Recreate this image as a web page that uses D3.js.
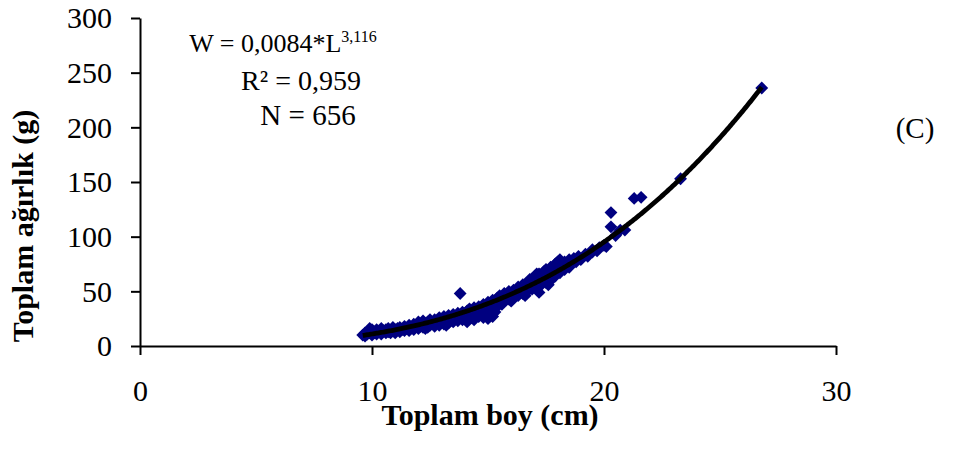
<!DOCTYPE html>
<html>
<head>
<meta charset="utf-8">
<script src="https://cdn.jsdelivr.net/npm/d3@7"></script>
<style>
  html, body { margin: 0; padding: 0; background: #fff; }
  svg { display: block; }
  text { font-family: "Times New Roman", "Liberation Serif", serif; fill: #000; }
</style>
</head>
<body>
<svg id="chart" width="974" height="461"></svg>
<script>
// Total length (cm) and total weight (g) of the sampled fish
const lengthCm = [
  9.6, 9.7, 9.7, 9.8, 9.9, 9.9, 10.0, 10.0, 10.0, 10.1,
  10.2, 10.2, 10.3, 10.4, 10.4, 10.5, 10.6, 10.6, 10.7, 10.7,
  10.8, 10.9, 10.9, 11.0, 11.0, 11.1, 11.2, 11.2, 11.3, 11.4,
  11.4, 11.5, 11.6, 11.6, 11.7, 11.8, 11.8, 11.9, 12.0, 12.0,
  12.0, 12.1, 12.2, 12.2, 12.3, 12.4, 12.4, 12.5, 12.5, 12.6,
  12.7, 12.7, 12.8, 12.9, 12.9, 13.0, 13.1, 13.1, 13.2, 13.3,
  13.3, 13.4, 13.5, 13.5, 13.6, 13.7, 13.7, 13.8, 13.8, 13.9,
  13.9, 14.0, 14.1, 14.1, 14.2, 14.2, 14.3, 14.4, 14.4, 14.4,
  14.5, 14.6, 14.6, 14.7, 14.8, 14.8, 14.9, 15.0, 15.0, 15.0,
  15.1, 15.1, 15.2, 15.2, 15.3, 15.4, 15.4, 15.5, 15.5, 15.6,
  15.7, 15.7, 15.8, 15.9, 15.9, 16.0, 16.1, 16.1, 16.2, 16.3,
  16.3, 16.4, 16.5, 16.5, 16.6, 16.7, 16.7, 16.8, 16.8, 16.9,
  17.0, 17.0, 17.1, 17.2, 17.2, 17.2, 17.3, 17.4, 17.4, 17.5,
  17.5, 17.6, 17.7, 17.7, 17.8, 17.9, 17.9, 18.0, 18.0, 18.1,
  18.2, 18.3, 18.3, 18.4, 18.5, 18.5, 18.6, 18.7, 18.8, 18.9,
  19.0, 19.2, 19.3, 19.5, 19.5, 19.7, 19.8, 20.0, 20.1, 20.3,
  20.3, 20.5, 20.7, 20.9, 21.3, 21.6, 23.3, 26.8,
  15.0, 15.2, 14.9, 13.2, 12.3, 16.0, 16.6, 17.6, 18.1, 17.1
];
const weightG = [
  10, 9, 12, 11, 16, 12, 10, 13, 15, 12,
  11, 15, 13, 11, 16, 14, 12, 15, 13, 16,
  12, 14, 17, 12, 15, 16, 13, 17, 15, 14,
  18, 16, 14, 19, 17, 15, 20, 18, 16, 19,
  22, 18, 17, 23, 20, 17, 22, 19, 24, 21,
  18, 24, 22, 19, 26, 23, 20, 27, 24, 21,
  28, 25, 22, 29, 26, 23, 30, 27, 48, 24,
  31, 28, 22, 32, 29, 34, 26, 24, 33, 35,
  30, 27, 36, 32, 26, 38, 34, 28, 36, 40,
  29, 33, 38, 42, 31, 36, 44, 40, 46, 38,
  42, 48, 44, 43, 50, 46, 44, 51, 48, 46,
  54, 50, 48, 56, 52, 50, 58, 54, 61, 52,
  57, 63, 54, 49, 60, 66, 56, 62, 68, 58,
  70, 64, 60, 72, 67, 64, 75, 70, 77, 67,
  73, 70, 77, 74, 72, 79, 76, 80, 77, 82,
  79, 84, 82, 86, 88, 87, 90, 92, 91, 122,
  109, 101, 106, 106, 135, 136, 153, 236,
  25, 27, 29, 19, 16, 41, 46, 56, 79, 66
];

// Fitted length–weight relationship W = a * L^b
const fitA = 0.0084;
const fitB = 3.116;
const fitR2 = "0,959";
const sampleN = 656;

const xTicks = [0, 10, 20, 30];
const yTicks = [0, 50, 100, 150, 200, 250, 300];

const svg = d3.select("#chart");
const x = d3.scaleLinear().domain([0, 30]).range([140, 836]);
const y = d3.scaleLinear().domain([0, 300]).range([346, 18]);

// Observations as diamond markers
const diamond = d3.symbol().type(d3.symbolDiamond2).size(105);
svg.append("g")
  .selectAll("path")
  .data(d3.zip(lengthCm, weightG))
  .join("path")
  .attr("d", diamond)
  .attr("transform", d => `translate(${x(d[0])},${y(d[1])})`)
  .attr("fill", "#000080");

// Power trendline over the observed length range
const lMin = d3.min(lengthCm), lMax = d3.max(lengthCm);
const curve = d3.range(lMin, lMax + 0.001, 0.05).map(L => [L, fitA * Math.pow(L, fitB)]);
svg.append("path")
  .datum(curve)
  .attr("fill", "none")
  .attr("stroke", "#000")
  .attr("stroke-width", 4.8)
  .attr("d", d3.line().x(d => x(d[0])).y(d => y(d[1])));

// Axes
const xAxis = svg.append("g")
  .attr("transform", "translate(0,346)")
  .call(d3.axisBottom(x).tickValues(xTicks).tickSize(9).tickSizeOuter(0));
xAxis.selectAll("text").attr("y", 55).attr("dy", null).style("font-size", "30px");

const yAxis = svg.append("g")
  .attr("transform", "translate(140,0)")
  .call(d3.axisLeft(y).tickValues(yTicks).tickSize(9).tickSizeOuter(0));
yAxis.selectAll("text").attr("x", -28).attr("dy", "0.33em").style("font-size", "30px");

svg.selectAll(".domain, .tick line").attr("stroke", "#000").attr("stroke-width", 2);
svg.selectAll(".tick text").attr("font-family", null);

// Axis titles
svg.append("text")
  .attr("x", 490).attr("y", 425)
  .attr("text-anchor", "middle")
  .style("font-size", "30px").style("font-weight", "bold")
  .text("Toplam boy (cm)");

svg.append("text")
  .attr("transform", "translate(33,226) rotate(-90)")
  .attr("text-anchor", "middle")
  .style("font-size", "30px").style("font-weight", "bold")
  .text("Toplam ağırlık (g)");

// Equation block
const eq = svg.append("text")
  .attr("x", 283).attr("y", 52)
  .attr("text-anchor", "middle")
  .style("font-size", "26px");
eq.append("tspan").text(`W = ${String(fitA).replace(".", ",")}*L`);
eq.append("tspan").attr("dy", -10).style("font-size", "16px").text(String(fitB).replace(".", ","));

svg.append("text")
  .attr("x", 301).attr("y", 90)
  .attr("text-anchor", "middle")
  .style("font-size", "28px")
  .text(`R² = ${fitR2}`);

svg.append("text")
  .attr("x", 308).attr("y", 125)
  .attr("text-anchor", "middle")
  .style("font-size", "29px")
  .text(`N = ${sampleN}`);

// Panel letter
svg.append("text")
  .attr("x", 915).attr("y", 138)
  .attr("text-anchor", "middle")
  .style("font-size", "29px")
  .text("(C)");
</script>
</body>
</html>
